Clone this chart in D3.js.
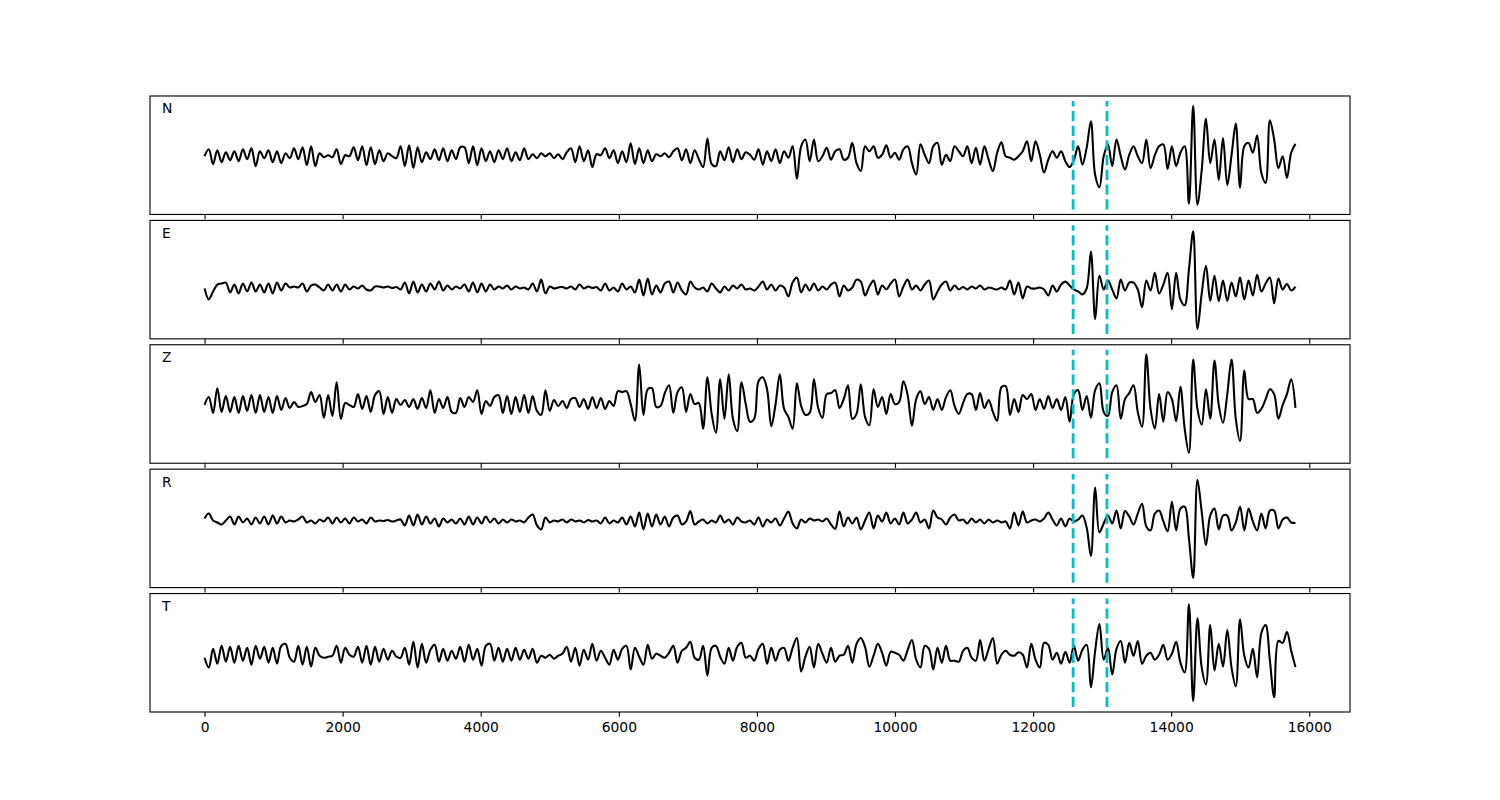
<!DOCTYPE html>
<html>
<head>
<meta charset="utf-8">
<script src="https://cdn.jsdelivr.net/npm/d3@7/dist/d3.min.js"></script>
<style>
  html, body { margin: 0; padding: 0; background: #ffffff; }
  svg { display: block; }
</style>
</head>
<body>
<div id="chart"></div>
<script>
// ---------------- DATA (normalized amplitude, % of max |amplitude|) ----------------
const components = ["N", "E", "Z", "R", "T"];
const traceLength = 15800;           // samples along the x axis
const xTicks = [0, 2000, 4000, 6000, 8000, 10000, 12000, 14000, 16000];
const pickTimes = [12580, 13070];

const nValues = [
 -2,12,-18,10,-14,6,-10,8,-12,12,-8,
 14,-22,8,-6,10,-14,8,-16,4,-6,
 14,-8,16,-20,18,-22,4,-4,0,-4,
 12,-18,0,-2,16,-10,18,-20,16,-18,
 10,-12,4,-2,-6,18,-22,20,-26,16,
 -14,6,-8,12,-10,14,-12,10,-8,16,
 16,-16,18,-20,14,-12,8,-14,10,-8,
 14,-12,6,-10,14,-8,2,-6,4,-2,
 4,-6,2,-8,6,14,-14,18,-12,10,
 -24,2,0,14,-6,10,-16,8,-14,24,
 -18,14,-16,10,-12,2,-2,4,-4,8,
 14,-10,12,-16,10,-8,-24,34,-18,-22,
 8,-10,16,-14,12,-8,6,
 1,-9,12,-19,8,-12,12,-16,8,-5,18,-48,18,32,-12,32,-12,-2,15,-9,8,
 12,-9,-5,25,-16,-32,18,8,18,-5,1,20,-5,5,-9,12,18,-16,-39,22,
 1,-16,18,25,-19,1,-12,18,8,-2,18,-16,15,-19,18,-9,-32,5,26,-2,
 -5,-9,-2,8,28,-12,28,1,-35,-9,8,-5,8,-12,-24,
 -10,18,-19,15,69,-40,-65,-2,22,-22,32,-2,-29,1,
 18,-2,-16,32,-26,0,18,22,-28,18,-22,5,18,
 -98,100,-100,-30,74,-16,32,-50,35,-60,0,64,-66,18,25,5,40,-36,-56,71,32,-26,-2,-46,5,23
];

const eValues = [
 -18,-40,-24,-10,-8,-6,-26,-10,-28,-8,
 -24,-6,-24,-10,-26,-8,-28,-6,-22,-8,
 -16,-14,-16,-8,-24,-12,-10,-16,-22,-10,
 -22,-10,-24,-10,-20,-14,-18,-12,-20,-22,
 -14,-14,-16,-14,-17,-15,-20,-6,-28,-4,
 -26,-10,-24,-8,-20,-4,-22,-12,-20,-14,
 -18,-10,-24,-6,-26,-8,-24,-10,-20,-14,
 -18,-12,-20,-14,-18,-16,-20,-8,-24,0,
 -28,-14,-18,-16,-15,-18,-14,-20,-10,-18,
 -14,-17,-15,-22,-8,-22,-16,-24,-8,-20,
 -14,-26,0,-32,2,-30,-12,-26,-8,-4,
 -26,-6,-22,-30,-4,-16,-20,-16,-24,-8,
 -18,-26,-14,-22,-12,-18,-10,-20,
 -18,-22,-14,-4,-20,-10,-22,-12,-16,-34,
 -6,4,-26,-10,-22,-8,-22,-14,-20,-10,
 -6,-34,-12,-22,-16,0,-4,-32,-14,-2,
 -30,-12,-20,-8,0,-34,-14,0,-20,-12,
 -22,-10,-2,-40,-24,-10,-4,-22,-12,-20,
 -15,-20,-14,-18,-12,-20,-16,-18,-20,-16,
 -20,-2,-30,-6,-38,-14,-18,-18,-16,-20,
 -32,-12,-24,-10,-4,-12,-20,-24,-30,-18,
 57,-80,8,-20,-2,-20,-38,0,-22,-6,
 -6,-20,-56,-2,-22,14,-28,-10,14,-60,
 14,-40,-52,20,98,-100,-28,28,-43,8,
 -44,-2,-43,-6,-34,4,-40,-2,-32,10,
 -24,-8,4,-48,2,-20,-9,-22,-14
];

const zValues = [
 -2,14,-18,32,-16,16,-16,14,-18,16,
 -14,18,-18,18,-16,14,-18,16,-12,12,
 -8,4,-6,-4,0,24,4,18,-28,18,
 -24,44,-30,2,-2,-6,20,-10,16,-16,
 18,26,-20,14,-18,10,-2,8,-6,10,
 -10,12,-8,28,-18,10,-8,14,-16,-18,
 12,-6,14,4,28,-20,6,-4,14,18,
 -18,16,-20,14,-16,18,-18,16,-14,-22,
 28,-14,8,-4,6,-8,10,12,-6,10,
 -10,14,-8,12,-10,6,-4,26,24,26,
 0,-34,80,-22,30,32,-6,-4,22,38,
 -18,24,34,-16,20,0,2,-50,54,-20,
 -58,50,-30,60,-30,-55,44,0,
 -36,-30,46,54,30,-45,0,60,-10,-26,
 -50,42,-4,-22,-18,50,-8,-28,20,22,
 28,-8,10,38,-30,-20,40,-26,-43,30,
 -6,14,-20,20,0,4,46,18,-44,10,
 26,0,14,-12,10,-12,14,28,-4,-20,
 2,20,20,-12,22,-8,8,-16,-34,34,
 36,-22,10,-16,18,10,20,-12,10,-10,
 16,-8,10,-12,14,-36,20,28,-12,16,
 -28,28,42,-16,-24,24,38,-30,10,22,
 38,-16,-46,100,-10,-50,20,-36,24,10,
 -35,35,-50,-99,90,-10,-42,30,-30,88,
 -2,-38,20,90,-30,-75,68,10,10,-18,
 -10,10,30,20,-30,-2,20,50,-8
];

const rValues = [
 20,30,16,12,8,16,24,8,24,12,
 20,8,22,10,24,8,26,10,24,12,
 16,14,18,24,12,16,10,18,14,22,
 10,22,12,20,10,22,14,18,10,22,
 14,16,15,17,14,16,18,6,26,6,
 28,8,24,10,20,4,20,12,18,10,
 20,8,24,8,22,10,24,12,20,10,
 18,12,18,14,16,12,22,28,6,-2,
 22,12,16,14,18,12,18,14,16,12,
 17,14,16,10,22,10,16,12,22,8,
 24,4,32,-2,30,4,28,8,24,4,
 22,26,8,14,35,8,14,18,10,16,
 12,26,12,18,8,22,14,12,
 16,8,22,4,18,12,20,6,20,34,
 10,0,18,12,20,16,18,14,20,8,
 -1,34,4,22,10,22,-2,16,32,0,
 26,14,32,10,20,8,32,10,18,32,
 12,18,0,36,22,18,8,22,28,16,
 18,10,20,12,18,10,18,12,16,12,
 14,0,32,6,34,12,16,18,14,20,
 32,18,6,20,4,20,14,18,26,2,
 -56,83,-8,10,26,10,36,0,35,24,
 8,30,50,4,-4,30,36,14,-6,54,
 -4,40,44,-20,-100,98,34,-34,26,40,
 -2,26,26,-4,12,44,-4,40,14,-4,
 30,0,36,36,0,18,22,12,11
];

const tValues = [
 -10,-30,8,-22,14,-18,12,-20,14,-16,
 10,-24,14,-12,12,-20,10,-22,14,18,
 -10,-18,14,-24,12,-28,10,-6,-10,-8,
 -6,14,-20,10,-4,-8,12,-20,14,-24,
 12,-18,8,-14,4,-8,-10,10,-24,22,
 -30,18,-20,6,16,-18,8,-16,4,-12,
 12,-18,16,-14,8,-26,14,18,-16,10,
 -18,8,-16,10,-14,6,-12,8,-20,-6,
 -10,-4,-12,-6,-2,12,-18,10,-26,6,
 -14,18,-16,4,-10,-24,6,-14,8,14,
 -34,10,-8,-24,16,-12,-2,-6,-10,0,
 14,-20,4,10,22,-10,-14,14,-46,10,
 14,-8,-22,10,-16,12,20,-10,
 -6,-16,8,18,-22,10,-16,6,10,-16,
 10,30,-38,-8,12,-30,18,-2,-20,10,
 -18,-6,-4,14,-20,18,30,12,-28,-6,
 18,0,-26,2,0,-4,-16,6,26,-14,
 -30,14,8,-34,10,-20,14,-16,-16,-18,
 4,10,-10,-16,26,-16,8,30,-22,-4,
 4,-4,-6,1,-4,-30,18,-14,-30,20,
 16,-14,0,-22,2,-20,14,-16,6,16,
 -70,4,58,-14,10,-44,8,24,-20,20,
 -6,24,-22,-6,0,-14,-4,16,-14,-2,
 22,-20,-40,98,-98,70,-30,-64,56,-36,
 18,-28,46,-30,-68,68,-6,-30,8,-50,
 40,56,-16,-90,24,20,42,4,-29
];

const traces = [nValues, eValues, zValues, rValues, tValues];

// ---------------- LAYOUT ----------------
const W = 1500, H = 800;
const plotLeft = 150, plotRight = 1350, plotTop = 96, plotBottom = 712;
const nPanels = components.length;
const hspace = 0.05;
const panelH = (plotBottom - plotTop) / (nPanels + (nPanels - 1) * hspace);
const gap = panelH * hspace;
const PT = 100 / 72;

const svg = d3.select("#chart").append("svg")
  .attr("width", W).attr("height", H)
  .style("font-family", "'DejaVu Sans', sans-serif");
svg.append("rect").attr("width", W).attr("height", H).attr("fill", "#ffffff");

const xMargin = 0.05 * traceLength;
const x = d3.scaleLinear().domain([-xMargin, traceLength + xMargin]).range([plotLeft, plotRight]);

traces.forEach((vals, p) => {
  const y0 = plotTop + p * (panelH + gap);
  const y = d3.scaleLinear().domain([-120, 120]).range([y0 + panelH, y0]);
  const step = traceLength / (vals.length - 1);
  const g = svg.append("g");

  const line = d3.line()
    .x((d, i) => x(i * step))
    .y(d => y(d))
    .curve(d3.curveCatmullRom.alpha(0.5));

  g.append("path")
    .datum(vals)
    .attr("d", line)
    .attr("fill", "none")
    .attr("stroke", "#000000")
    .attr("stroke-width", 1.5 * PT)
    .attr("stroke-linejoin", "round");

  g.selectAll("line.pick")
    .data(pickTimes)
    .join("line")
    .attr("class", "pick")
    .attr("x1", d => x(d)).attr("x2", d => x(d))
    .attr("y1", y(-110)).attr("y2", y(110))
    .attr("stroke", "#00bfbf")
    .attr("stroke-width", 2 * PT)
    .attr("stroke-dasharray", `${7.4 * PT},${3.2 * PT}`);

  const axis = d3.axisBottom(x)
    .tickValues(xTicks)
    .tickSize(3.5 * PT)
    .tickPadding(3.5 * PT)
    .tickFormat(p === nPanels - 1 ? d3.format("d") : () => "");
  const ag = g.append("g")
    .attr("transform", `translate(0,${y0 + panelH})`)
    .call(axis);
  ag.select(".domain").remove();
  ag.selectAll(".tick line").attr("stroke", "#000").attr("stroke-width", 0.8 * PT);
  ag.selectAll(".tick text")
    .attr("fill", "#000")
    .style("font-family", "'DejaVu Sans', sans-serif")
    .style("font-size", (10 * PT) + "px");

  g.append("rect")
    .attr("x", plotLeft).attr("y", y0)
    .attr("width", plotRight - plotLeft).attr("height", panelH)
    .attr("fill", "none")
    .attr("stroke", "#000")
    .attr("stroke-width", 0.8 * PT);

  g.append("text")
    .attr("x", plotLeft + 0.01 * (plotRight - plotLeft))
    .attr("y", y0 + 0.1 * panelH + 5.5)
    .attr("fill", "#000")
    .style("font-size", (10 * PT) + "px")
    .text(components[p]);
});
</script>
</body>
</html>
